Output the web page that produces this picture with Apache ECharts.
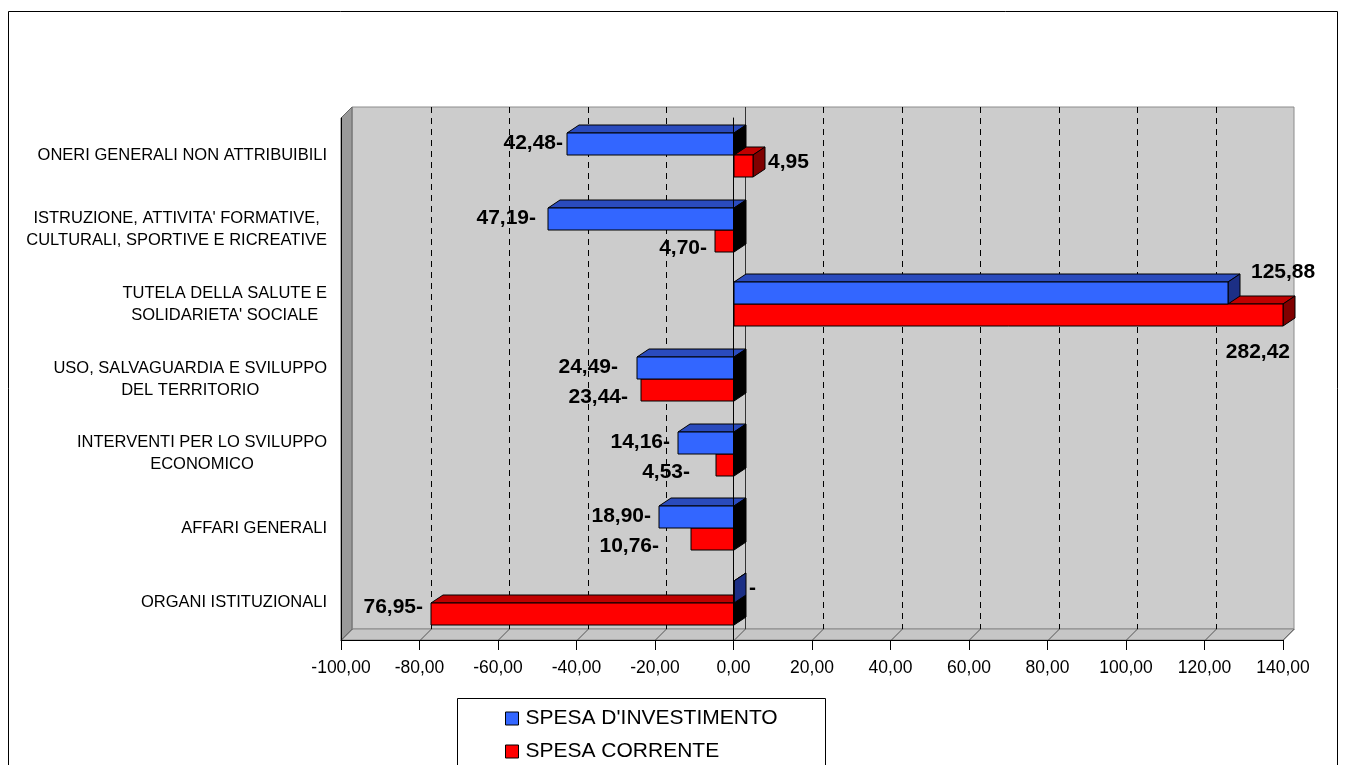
<!DOCTYPE html>
<html>
<head>
<meta charset="utf-8">
<script src="https://cdn.jsdelivr.net/npm/echarts@6/dist/echarts.min.js"></script>
<style>
    html, body { margin: 0; padding: 0; background: #fff; }
    #chart { width: 1346px; height: 765px; }
</style>
</head>
<body>
<div id="chart"></div>
<script>
    // categorie dall'alto verso il basso
    var categories = [
        'ONERI GENERALI NON ATTRIBUIBILI',
        "ISTRUZIONE, ATTIVITA' FORMATIVE,\nCULTURALI, SPORTIVE E RICREATIVE",
        "TUTELA DELLA SALUTE E\nSOLIDARIETA' SOCIALE",
        'USO, SALVAGUARDIA E SVILUPPO\nDEL TERRITORIO',
        'INTERVENTI PER LO SVILUPPO\nECONOMICO',
        'AFFARI GENERALI',
        'ORGANI ISTITUZIONALI'
    ];
    var investimento = [-42.48, -47.19, 125.88, -24.49, -14.16, -18.90, 0];
    var corrente = [4.95, -4.70, 282.42, -23.44, -4.53, -10.76, -76.95];
    var xTicks = [-100, -80, -60, -40, -20, 0, 20, 40, 60, 80, 100, 120, 140];
    var axisMin = -100, axisMax = 140;

    var FONT = '"Liberation Sans", Arial, sans-serif';
    var DX = 11, DY = 11;   // profondita' pareti
    var BDX = 12, BDY = 8;  // profondita' barre

    // etichette spostate a mano come nell'originale [dx verso l'esterno, dy]
    var labelNudge = {
        inv: { 0: [-4, 0], 1: [4, 0], 2: [8, -17], 3: [11, 0] },
        cor: { 3: [5, 0], 4: [18, 0], 5: [24, 0], 6: [0, -14] }
    };

    function fmtValue(v) {
        if (v === 0) return '-';
        var s = Math.abs(v).toFixed(2).replace('.', ',');
        return v < 0 ? s + '-' : s;
    }
    function fmtTick(v) {
        return v.toFixed(2).replace('.', ',');
    }

    function renderWall(params, api) {
        var cs = params.coordSys;
        var x0 = cs.x, x1 = cs.x + cs.width, y0 = cs.y, y1 = cs.y + cs.height;
        var kids = [];
        kids.push({ type: 'rect', shape: { x: x0 + DX, y: y0 - DY, width: cs.width, height: cs.height },
            style: { fill: '#cccccc', stroke: '#8c8c8c', lineWidth: 1 } });
        kids.push({ type: 'polygon', shape: { points: [[x0, y0], [x0 + DX, y0 - DY], [x0 + DX, y1 - DY], [x0, y1]] },
            style: { fill: '#9a9a9a', stroke: '#666', lineWidth: 1 } });
        kids.push({ type: 'polygon', shape: { points: [[x0, y1], [x0 + DX, y1 - DY], [x1 + DX, y1 - DY], [x1, y1]] },
            style: { fill: '#c6c6c6', stroke: '#888', lineWidth: 1 } });
        xTicks.forEach(function (t) {
            var x = Math.round(api.coord([t, 0])[0]) + 0.5;
            if (t > axisMin && t < axisMax) {
                kids.push({ type: 'line', shape: { x1: x + DX, y1: y0 - DY, x2: x + DX, y2: y1 - DY },
                    style: { stroke: t === 0 ? '#333' : '#000', lineWidth: 1, lineDash: t === 0 ? null : [6, 5] } });
            }
            kids.push({ type: 'line', shape: { x1: x, y1: y1, x2: x + DX, y2: y1 - DY },
                style: { stroke: '#555', lineWidth: 1 } });
        });
        return { type: 'group', children: kids };
    }

    function barRenderer(key, pal, slot) {
        return function (params, api) {
            var i = params.dataIndex;
            var v = api.value(0);
            var band = api.size([0, 1])[1];
            var h = Math.round(band * 0.295);
            var cy = Math.round(api.coord([0, i])[1]);
            var top = slot === 0 ? cy - h : cy;
            var vc = Math.max(axisMin, Math.min(axisMax, v));
            var xa = Math.round(api.coord([Math.min(vc, 0), i])[0]);
            var xb = Math.round(api.coord([Math.max(vc, 0), i])[0]);
            var side = v < 0 ? '#000' : pal.side;
            var kids = [
                { type: 'polygon', shape: { points: [[xa, top], [xa + BDX, top - BDY], [xb + BDX, top - BDY], [xb, top]] },
                    style: { fill: pal.top, stroke: '#000', lineWidth: 1 } },
                { type: 'polygon', shape: { points: [[xb, top], [xb + BDX, top - BDY], [xb + BDX, top + h - BDY], [xb, top + h]] },
                    style: { fill: side, stroke: '#000', lineWidth: 1 } },
                { type: 'rect', shape: { x: xa, y: top, width: xb - xa, height: h },
                    style: { fill: pal.front, stroke: '#000', lineWidth: 1 } }
            ];
            var nud = (labelNudge[key] && labelNudge[key][i]) || [0, 0];
            var midY = top + h / 2;
            var lx, ly, al;
            if (v > axisMax) {
                lx = xb + BDX - 5; ly = top + h + 26; al = 'right';
            } else if (v < 0) {
                lx = xa - 8 - nud[0]; ly = midY + (slot === 0 ? -1 : 7) + nud[1]; al = 'right';
            } else {
                lx = xb + BDX + 3 + nud[0]; ly = midY - 4 + nud[1]; al = 'left';
            }
            kids.push({ type: 'text', style: { text: fmtValue(v), x: lx, y: ly, align: al, verticalAlign: 'middle',
                font: 'bold 21px ' + FONT, fill: '#000' } });
            return { type: 'group', children: kids };
        };
    }

    var chart = echarts.init(document.getElementById('chart'));
    var option = {
        animation: false,
        backgroundColor: '#fff',
        graphic: [{
            type: 'rect', shape: { x: 8.5, y: 11.5, width: 1329, height: 800 },
            style: { fill: 'none', stroke: '#000', lineWidth: 1 }, z: 0
        }, {
            // cornice della legenda (prosegue oltre il bordo inferiore)
            type: 'rect', shape: { x: 457.5, y: 698.5, width: 368, height: 120 },
            style: { fill: '#fff', stroke: '#000', lineWidth: 1 }, z: 0
        }],
        grid: { left: 341, top: 118, width: 942, height: 522, containLabel: false, outerBoundsMode: 'none' },
        legend: {
            data: ["SPESA D'INVESTIMENTO", 'SPESA CORRENTE'],
            orient: 'vertical',
            left: 505, top: 708,
            padding: 0,
            itemWidth: 13, itemHeight: 13, itemGap: 12,
            icon: 'rect',
            selectedMode: false,
            itemStyle: { borderColor: '#000', borderWidth: 1 },
            textStyle: { fontSize: 21, fontFamily: FONT, color: '#000', padding: [0, 0, 0, 2] },
            z: 5
        },
        xAxis: {
            type: 'value', min: axisMin, max: axisMax, interval: 20,
            axisLine: { show: true, onZero: false, lineStyle: { color: '#000' } },
            axisTick: { show: true, length: 10, lineStyle: { color: '#000' } },
            axisLabel: { margin: 19, fontSize: 17.5, fontFamily: FONT, color: '#000', formatter: fmtTick },
            splitLine: { show: false },
            z: 4
        },
        yAxis: [{
            type: 'category', data: categories, inverse: true, position: 'left',
            axisLine: { onZero: false, lineStyle: { color: '#000' } },
            axisTick: { length: 11, lineStyle: { color: '#000' } },
            axisLabel: {
                margin: 14,
                formatter: function (v) {
                    return v.split('\n').map(function (s) { return '{c|' + s + '}'; }).join('\n');
                },
                rich: { c: { align: 'center', fontSize: 16.5, lineHeight: 22, fontFamily: FONT, color: '#000' } }
            },
            z: 4
        }, {
            type: 'category', data: categories, inverse: true, position: 'left',
            axisLine: { onZero: true, lineStyle: { color: '#000' } },
            axisTick: { length: 10, lineStyle: { color: '#000' } },
            axisLabel: { show: false },
            z: 4
        }],
        series: [{
            name: 'wall', type: 'custom', z: 1, silent: true, clip: false,
            renderItem: renderWall,
            data: [[0, 0]]
        }, {
            name: 'SPESA CORRENTE', type: 'custom', z: 3, clip: false,
            itemStyle: { color: '#ff0000' },
            encode: { x: 0, y: 1 },
            renderItem: barRenderer('cor', { front: '#ff0000', top: '#c00000', side: '#800000' }, 1),
            data: corrente.map(function (v, i) { return [v, i]; })
        }, {
            name: "SPESA D'INVESTIMENTO", type: 'custom', z: 3, clip: false,
            itemStyle: { color: '#3366ff' },
            encode: { x: 0, y: 1 },
            renderItem: barRenderer('inv', { front: '#3366ff', top: '#2a4bbd', side: '#1c2f85' }, 0),
            data: investimento.map(function (v, i) { return [v, i]; })
        }]
    };
    chart.setOption(option);
</script>
</body>
</html>
